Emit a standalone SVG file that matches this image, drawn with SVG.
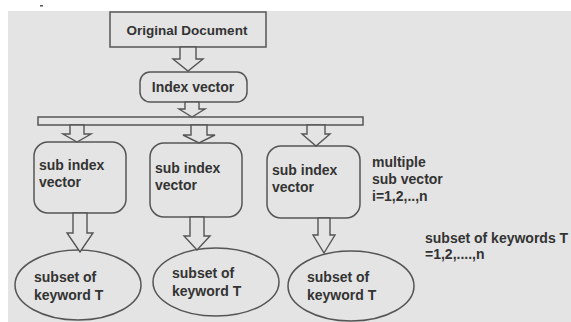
<svg xmlns="http://www.w3.org/2000/svg" width="571" height="322" viewBox="0 0 571 322">
<style>
.shape{fill:#e4e4e4;stroke:#555;stroke-width:1.5}
.arrow{fill:#e4e4e4;stroke:#555;stroke-width:1.4;stroke-linejoin:miter}
.t{font-family:"Liberation Sans",Arial,sans-serif;font-weight:bold;font-size:14px;fill:#333}
.t13{font-size:13.5px}
</style>
<rect x="0" y="0" width="571" height="322" fill="#ffffff"/>
<rect x="8" y="11" width="563" height="311" fill="#e4e4e4"/>
<rect x="40" y="5" width="3" height="1.5" fill="#555"/>
<g id="original-document">
<rect class="shape" x="110" y="12" width="156" height="35"/>
<text class="t t13" x="187" y="35" text-anchor="middle">Original Document</text>
</g>
<g id="index-vector">
<rect class="shape" x="140" y="72" width="107" height="30" rx="10"/>
<text class="t" x="193" y="92" text-anchor="middle">Index vector</text>
</g>
<g id="bar">
<rect class="shape" x="38" y="117" width="325" height="8"/>
</g>
<g id="sub1">
<rect class="shape" x="34" y="142" width="92" height="71" rx="14"/>
<text class="t" x="39" y="170">sub index</text>
<text class="t" x="39" y="187">vector</text>
</g>
<g id="sub2">
<rect class="shape" x="150" y="143" width="92" height="74" rx="14"/>
<text class="t" x="155" y="173">sub index</text>
<text class="t" x="155" y="190">vector</text>
</g>
<g id="sub3">
<rect class="shape" x="267" y="146" width="93" height="72" rx="14"/>
<text class="t" x="272" y="175">sub index</text>
<text class="t" x="272" y="192">vector</text>
</g>
<g id="multiple-label">
<text class="t" x="372" y="167">multiple</text>
<text class="t" x="372" y="184">sub vector</text>
<text class="t" x="372" y="201">i=1,2,..,n</text>
</g>
<g id="subset1">
<ellipse class="shape" cx="78" cy="285" rx="63" ry="35"/>
<text class="t" x="34" y="282">subset of</text>
<text class="t" x="34" y="300">keyword T</text>
</g>
<g id="subset2">
<ellipse class="shape" cx="216" cy="282" rx="63" ry="34"/>
<text class="t" x="172" y="278">subset of</text>
<text class="t" x="172" y="296">keyword T</text>
</g>
<g id="subset3">
<ellipse class="shape" cx="351" cy="286" rx="63" ry="35"/>
<text class="t" x="307" y="282">subset of</text>
<text class="t" x="307" y="300">keyword T</text>
</g>
<g id="keywords-label">
<text class="t" x="425" y="243">subset of keywords T</text>
<text class="t" x="425" y="259">=1,2,....,n</text>
</g>
<g id="connectors">
<path class="arrow" d="M180,47 L196,47 L196,59 L203,59 L188,71 L173,59 L180,59 Z"/>
<path class="arrow" d="M185,102 L199,102 L199,109 L205,109 L192,117 L179,109 L185,109 Z"/>
<path class="arrow" d="M70,125 L84,125 L84,134 L91,134 L77,142 L63,134 L70,134 Z"/>
<path class="arrow" d="M191,125 L207,125 L207,135 L215,135 L199,143 L183,135 L191,135 Z"/>
<path class="arrow" d="M307,125 L325,125 L325,134 L330,134 L316,146 L302,134 L307,134 Z"/>
<path class="arrow" d="M73,213 L87,213 L87,233 L93,233 L80,252 L67,233 L73,233 Z"/>
<path class="arrow" d="M190,217 L204,217 L204,236 L210,236 L197,250 L184,236 L190,236 Z"/>
<path class="arrow" d="M318,218 L330,218 L330,235 L335,235 L324,253 L313,235 L318,235 Z"/>
</g>
</svg>
